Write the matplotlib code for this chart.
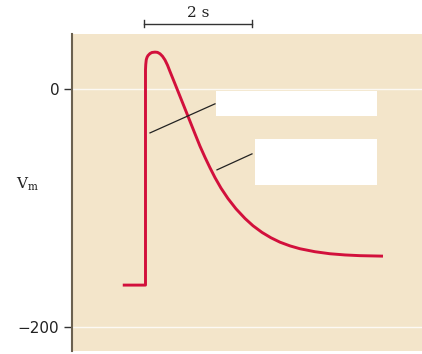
import matplotlib.pyplot as plt
from matplotlib.patches import Rectangle

plt.rcParams['mathtext.fontset'] = 'dejavuserif'

# action potential trace (time in s, membrane potential)
t = [0.94, 1.361, 1.361, 1.366, 1.375, 1.39, 1.407, 1.444, 1.481, 1.537, 1.583, 1.63, 1.676,
     1.722, 1.769, 1.815, 1.907, 2.0, 2.130, 2.278, 2.370, 2.463, 2.556, 2.648, 2.759,
     2.889, 3.037, 3.204, 3.352, 3.519, 3.685, 3.852, 4.037, 4.222, 4.5, 4.778, 5.056,
     5.333, 5.759]
vm = [-164.7, -164.7, 16, 20.5, 24.4, 26.5, 27.9, 29.6, 30.5, 30.8, 30.6, 29.4, 27.3,
      24.2, 19.8, 14.5, 4.2, -6.3, -21.0, -37.8, -48.1, -57.5, -66.3, -74.5, -83.3,
      -92.1, -100.7, -108.8, -114.9, -120.5, -125.0, -128.7, -131.8, -134.2, -136.7, -138.4, -139.4,
      -140.0, -140.4]

y_ticks = [0, -200]
y_tick_labels = ['0', '\u2212200']

# label boxes (x0, x1, y0, y1) and pointer lines
boxes = [(2.667, 5.648, -22.7, -1.7), (3.389, 5.648, -80.7, -42.0)]
pointers = [((1.444, 2.648), (-37.0, -12.6)), ((2.685, 3.333), (-68.0, -54.6))]

bg = '#f3e5ca'
red = '#d2103c'

fig = plt.figure(figsize=(4.22, 3.54), dpi=100)
ax = fig.add_axes([72 / 422, 3 / 354, 350 / 422, 317 / 354])
ax.set_facecolor(bg)
ax.set_xlim(0, 350 / 54)
ax.set_ylim(-220, 46)

for y in y_ticks:
    ax.axhline(y, color='white', lw=1.0, alpha=0.8, zorder=1)

ax.plot(t, vm, color=red, lw=2.1, solid_joinstyle='round', solid_capstyle='butt', zorder=3)

for x0, x1, y0, y1 in boxes:
    ax.add_patch(Rectangle((x0, y0), x1 - x0, y1 - y0, facecolor='white', edgecolor='none', zorder=4))
for xs, ys in pointers:
    ax.plot(xs, ys, color='#222222', lw=0.9, zorder=4)

# 2 s scale bar above the panel
ax.plot([1.333, 3.333], [54.6, 54.6], color='#333333', lw=1.0, clip_on=False)
for xe in (1.333, 3.333):
    ax.plot([xe, xe], [51.5, 57.7], color='#333333', lw=1.0, clip_on=False)
ax.text(2.333, 63.5, '2 s', ha='center', va='center', fontsize=11,
        family='DejaVu Serif', color='#222222', clip_on=False)

ax.set_xticks([])
ax.set_yticks(y_ticks)
ax.set_yticklabels(y_tick_labels, fontsize=11, color='#222222')
ax.tick_params(axis='y', length=6, width=1.0, color='#333333', direction='out', pad=3)
for side in ['top', 'right', 'bottom']:
    ax.spines[side].set_visible(False)
ax.spines['left'].set_color('#6b6150')
ax.spines['left'].set_linewidth(1.5)

fig.text(27 / 422, 1 - 184 / 354, r'V$_{\mathrm{m}}$', ha='center', va='center',
         fontsize=11, family='DejaVu Serif', color='#222222')

fig.savefig('out.png', dpi=100)
